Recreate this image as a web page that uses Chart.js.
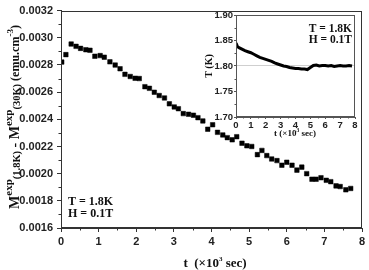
<!DOCTYPE html>
<html>
<head>
<meta charset="utf-8">
<script src="https://cdn.jsdelivr.net/npm/chart.js@4.4.0/dist/chart.umd.min.js"></script>
<style>
  body { margin: 0; background: #fff; }
  #wrap { position: relative; width: 369px; height: 270px; }
  #main { position: absolute; left: 0; top: 0; }
  #inset { position: absolute; left: 200px; top: 0; }
</style>
</head>
<body>
<div id="wrap">
  <canvas id="main" width="369" height="270"></canvas>
  <canvas id="inset" width="169" height="140"></canvas>
</div>
<script>
// main panel: relaxation of magnetization, t in 10^3 s
const mainTime = [0.02, 0.13, 0.27, 0.40, 0.52, 0.66, 0.77, 0.90, 1.04, 1.15,
  1.30, 1.44, 1.57, 1.70, 1.84, 1.97, 2.08, 2.23, 2.35, 2.48,
  2.61, 2.75, 2.88, 3.01, 3.12, 3.25, 3.39, 3.52, 3.64, 3.77,
  3.90, 4.03, 4.16, 4.30, 4.42, 4.55, 4.67, 4.81, 4.94, 5.07,
  5.22, 5.34, 5.47, 5.60, 5.74, 5.87, 6.00, 6.14, 6.27, 6.40,
  6.53, 6.67, 6.78, 6.91, 7.05, 7.17, 7.31, 7.42, 7.57, 7.70];
const mainMagnet = [0.002821, 0.002876, 0.002954, 0.002937, 0.002922, 0.002912, 0.002908, 0.002864, 0.002869, 0.002857,
  0.002823, 0.002799, 0.002772, 0.002731, 0.002715, 0.002702, 0.002700, 0.002640, 0.002628, 0.002599,
  0.002575, 0.002557, 0.002514, 0.002491, 0.002478, 0.002442, 0.002437, 0.002430, 0.002412, 0.002388,
  0.002327, 0.002360, 0.002304, 0.002285, 0.002265, 0.002249, 0.002272, 0.002224, 0.002205, 0.002200,
  0.002140, 0.002171, 0.002133, 0.002108, 0.002096, 0.002062, 0.002084, 0.002062, 0.002026, 0.002048,
  0.002000, 0.001959, 0.001959, 0.001970, 0.001951, 0.001941, 0.001910, 0.001905, 0.001881, 0.001891];

// inset: sample temperature during the run
const insetTime = [0, 0.1, 0.2, 0.4, 0.6, 0.8, 1.0, 1.2, 1.4, 1.6,
  1.8, 2.0, 2.2, 2.4, 2.6, 2.8, 3.0, 3.2, 3.4, 3.6,
  3.8, 4.0, 4.2, 4.4, 4.6, 4.8, 5.0, 5.2, 5.4, 5.6,
  5.8, 6.0, 6.2, 6.4, 6.6, 6.8, 7.0, 7.2, 7.4, 7.6, 7.8];
const insetTemp = [1.845, 1.838, 1.836, 1.833, 1.830, 1.828, 1.826, 1.823, 1.820, 1.817,
  1.815, 1.813, 1.811, 1.809, 1.806, 1.804, 1.802, 1.800, 1.799, 1.797,
  1.796, 1.795, 1.795, 1.794, 1.794, 1.793, 1.797, 1.801, 1.802, 1.800,
  1.801, 1.801, 1.800, 1.801, 1.799, 1.800, 1.801, 1.800, 1.800, 1.801, 1.800];

const mainXTicks = [0, 1, 2, 3, 4, 5, 6, 7, 8];
const mainYTicks = [0.0016, 0.0018, 0.0020, 0.0022, 0.0024, 0.0026, 0.0028, 0.0030, 0.0032];
const insetXTicks = [0, 1, 2, 3, 4, 5, 6, 7, 8];
const insetYTicks = [1.70, 1.75, 1.80, 1.85, 1.90];

function toPoints(xs, ys) {
  return xs.map((x, i) => ({ x: x, y: ys[i] }));
}

// draws a run of text pieces (with sub/superscripts), optionally rotated
function drawRich(ctx, parts, cx, cy, rotate) {
  ctx.save();
  ctx.translate(cx, cy);
  if (rotate) ctx.rotate(-Math.PI / 2);
  let total = 0;
  parts.forEach(p => { ctx.font = p.font; total += ctx.measureText(p.t).width; });
  let x = -total / 2;
  ctx.textBaseline = 'alphabetic';
  ctx.textAlign = 'left';
  parts.forEach(p => {
    ctx.font = p.font;
    ctx.fillText(p.t, x, p.dy || 0);
    x += ctx.measureText(p.t).width;
  });
  ctx.restore();
}

const decorations = {
  id: 'decorations',
  afterDraw(chart, args, opts) {
    const ctx = chart.ctx;
    const a = chart.chartArea;
    const xs = chart.scales.x, ys = chart.scales.y;
    ctx.save();
    ctx.strokeStyle = opts.frame;
    ctx.lineWidth = 1;
    const l = Math.round(a.left) + 0.5, t = Math.round(a.top) + 0.5;
    const r = Math.round(a.right) - 0.5, b = Math.round(a.bottom) - 0.5;
    ctx.strokeRect(l, t, r - l, b - t);
    // minor ticks
    ctx.beginPath();
    opts.xMinor.forEach(v => {
      const px = Math.round(xs.getPixelForValue(v)) + 0.5;
      ctx.moveTo(px, b); ctx.lineTo(px, b + opts.minorLen);
    });
    opts.yMinor.forEach(v => {
      const py = Math.round(ys.getPixelForValue(v)) + 0.5;
      ctx.moveTo(l, py); ctx.lineTo(l - opts.minorLen, py);
    });
    ctx.stroke();
    ctx.fillStyle = '#111';
    opts.texts.forEach(tx => {
      ctx.font = tx.font;
      ctx.textAlign = tx.align || 'left';
      ctx.textBaseline = 'alphabetic';
      ctx.fillText(tx.t, tx.x, tx.y);
    });
    opts.rich.forEach(rc => drawRich(ctx, rc.parts, rc.x, rc.y, rc.rotate));
    ctx.restore();
  }
};

const serifB = (s) => 'bold ' + s + 'px "Liberation Serif", "Times New Roman", serif';

function fixedTicks(values) {
  return function (scale) { scale.ticks = values.map(v => ({ value: v })); };
}

new Chart(document.getElementById('main'), {
  type: 'scatter',
  data: {
    datasets: [{
      data: toPoints(mainTime, mainMagnet),
      pointStyle: 'rect',
      pointRadius: 3.2,
      borderWidth: 0.5,
      backgroundColor: '#000',
      borderColor: '#000'
    }]
  },
  options: {
    responsive: false,
    animation: false,
    layout: { padding: { top: 7, right: 7, left: 0, bottom: 0 } },
    plugins: {
      legend: { display: false },
      tooltip: { enabled: false },
      decorations: {
        frame: '#333',
        minorLen: 3,
        xMinor: [0.5, 1.5, 2.5, 3.5, 4.5, 5.5, 6.5, 7.5],
        yMinor: [0.0017, 0.0019, 0.0021, 0.0023, 0.0025, 0.0027, 0.0029, 0.0031],
        texts: [
          { t: 'T = 1.8K', x: 68, y: 205, font: serifB(12) },
          { t: 'H = 0.1T', x: 68, y: 216.5, font: serifB(12) }
        ],
        rich: [
          { x: 215, y: 267, rotate: false, parts: [
            { t: 't  (×10', font: serifB(13) },
            { t: '3', font: serifB(7), dy: -6 },
            { t: ' sec)', font: serifB(13) }
          ] },
          { x: 18.5, y: 117, rotate: true, parts: [
            { t: 'M', font: serifB(14) },
            { t: 'exp', font: serifB(11), dy: -7 },
            { t: '(1.8K)', font: serifB(10.5), dy: 1 },
            { t: ' - M', font: serifB(14) },
            { t: 'exp', font: serifB(11), dy: -7 },
            { t: '(30K)', font: serifB(10.5), dy: 1 },
            { t: ' (emu.cm', font: serifB(12) },
            { t: '-3', font: serifB(9), dy: -6 },
            { t: ')', font: serifB(12) }
          ] }
        ]
      }
    },
    scales: {
      x: {
        type: 'linear', min: 0, max: 8,
        afterBuildTicks: fixedTicks(mainXTicks),
        afterFit: (s) => { s.height = 42; },
        grid: { drawOnChartArea: false, tickLength: 4, color: '#333' },
        border: { color: '#333' },
        ticks: { font: { family: '"Liberation Sans", Arial, sans-serif', size: 11, weight: 'bold' }, color: '#222', padding: 3, maxRotation: 0 }
      },
      y: {
        type: 'linear', min: 0.0016, max: 0.0032,
        afterBuildTicks: fixedTicks(mainYTicks),
        afterFit: (s) => { s.width = 61; },
        grid: { drawOnChartArea: false, tickLength: 4, color: '#333' },
        border: { color: '#333' },
        ticks: { font: { family: '"Liberation Sans", Arial, sans-serif', size: 11, weight: 'bold' }, color: '#222', padding: 4,
          callback: (v) => v.toFixed(4) }
      }
    }
  },
  plugins: [decorations]
});

new Chart(document.getElementById('inset'), {
  type: 'line',
  data: {
    datasets: [{
      data: toPoints(insetTime, insetTemp),
      borderColor: '#000',
      borderWidth: 3,
      pointRadius: 0,
      tension: 0
    }]
  },
  options: {
    responsive: false,
    animation: false,
    layout: { padding: { top: 15, right: 14, left: 0, bottom: 0 } },
    plugins: {
      legend: { display: false },
      tooltip: { enabled: false },
      decorations: {
        frame: '#555',
        minorLen: 2,
        xMinor: [0.5, 1.5, 2.5, 3.5, 4.5, 5.5, 6.5, 7.5],
        yMinor: [1.725, 1.775, 1.825, 1.875],
        texts: [
          { t: 'T = 1.8K', x: 152, y: 32, font: serifB(11.5), align: 'right' },
          { t: 'H = 0.1T', x: 152, y: 43, font: serifB(11.5), align: 'right' }
        ],
        rich: [
          { x: 95, y: 136, rotate: false, parts: [
            { t: 't (×10', font: serifB(9) },
            { t: '3', font: serifB(5.5), dy: -4 },
            { t: ' sec)', font: serifB(9) }
          ] },
          { x: 12, y: 66, rotate: true, parts: [
            { t: 'T (K)', font: serifB(10) }
          ] }
        ]
      }
    },
    scales: {
      x: {
        type: 'linear', min: 0, max: 8,
        afterBuildTicks: fixedTicks(insetXTicks),
        afterFit: (s) => { s.height = 23; },
        grid: { drawOnChartArea: false, tickLength: 2, color: '#555' },
        border: { color: '#555' },
        ticks: { font: { family: '"Liberation Sans", Arial, sans-serif', size: 9.5, weight: 'bold' }, color: '#222', padding: 1, maxRotation: 0 }
      },
      y: {
        type: 'linear', min: 1.70, max: 1.90,
        afterBuildTicks: fixedTicks(insetYTicks),
        afterFit: (s) => { s.width = 36; },
        grid: {
          tickLength: 2,
          tickColor: '#555',
          color: (c) => (c.tick && Math.abs(c.tick.value - 1.80) < 1e-6) ? '#cfcfcf' : 'rgba(0,0,0,0)'
        },
        border: { color: '#555' },
        ticks: { font: { family: '"Liberation Sans", Arial, sans-serif', size: 9.5, weight: 'bold' }, color: '#222', padding: 1,
          callback: (v) => v.toFixed(2) }
      }
    }
  },
  plugins: [decorations]
});
</script>
</body>
</html>
